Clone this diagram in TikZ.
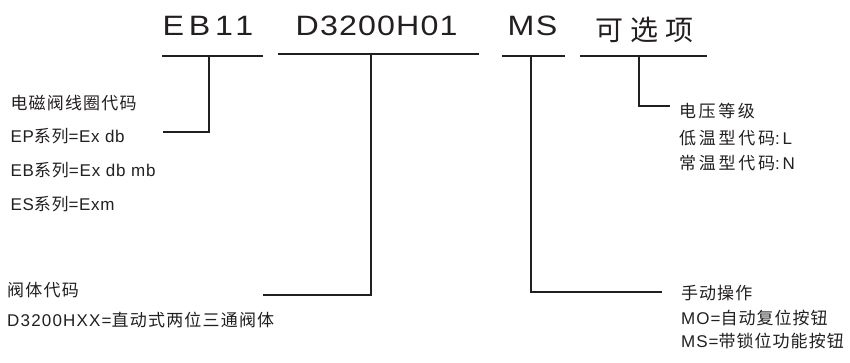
\documentclass[tikz,border=0pt]{standalone}
\usepackage{fontspec}
\setmainfont{Liberation Sans}
\newfontfamily\cjk{Noto Sans CJK SC}
\newfontfamily\wide[FakeStretch=1.15]{Liberation Sans}
\def\curls{0}
\newcommand\LS[1]{\def\curls{#1}\addfontfeature{LetterSpace=#1}}
\newcommand\zh[1]{{\cjk\addfontfeature{LetterSpace=\curls}#1}}
\definecolor{ink}{HTML}{231F20}
\begin{document}
\begin{tikzpicture}[x=1pt,y=-1pt,
  bar/.style={line width=1.8pt, draw=ink},
  lnk/.style={line width=1.8pt, draw=ink},
  big/.style={inner sep=0pt, anchor=base west, text=ink, font=\wide\fontsize{28}{32}\selectfont},
  small/.style={inner sep=0pt, anchor=base west, text=ink, font=\fontsize{17}{20}\selectfont}]
\useasboundingbox (0,0) rectangle (850,362);
% top code labels
\node[big] (t1) at (162.5,35) {\LS{17}EB11};
\node[big] (t2) at (295.5,35) {\LS{4}D3200H01};
\node[big] (t3) at (507.5,35) {\LS{5}MS};
\node[big] (t4) at (595.5,40) {\LS{25}\zh{可选项}};
% underline bars
\coordinate (b1a) at (162,56); \coordinate (b1b) at (263,56);
\coordinate (b2a) at (278,54); \coordinate (b2b) at (479,54);
\coordinate (b3a) at (502,56); \coordinate (b3b) at (565,56);
\coordinate (b4a) at (580,56); \coordinate (b4b) at (707,56);
\draw[bar] (b1a) -- (b1b);
\draw[bar] (b2a) -- (b2b);
\draw[bar] (b3a) -- (b3b);
\draw[bar] (b4a) -- (b4b);
% description texts
\node[small] (a1) at (10.3,109.8) {\LS{7}\zh{电磁阀线圈代码}};
\node[small] (a2) at (10.3,142.7) {\LS{4}EP\zh{系列}=Ex db};
\node[small] (a3) at (10.3,176.7) {\LS{5}EB\zh{系列}=Ex db mb};
\node[small] (a4) at (10.3,210) {\LS{4}ES\zh{系列}=Exm};
\node[small] (c1) at (7,296.5) {\LS{7}\zh{阀体代码}};
\node[small] (c2) at (7,326.7) {\LS{7}D3200HXX=\zh{直动式两位三通阀体}};
\node[small] (r1) at (679,117.5) {\LS{15}\zh{电压等级}};
\node[small] (r2) at (679,144.3) {\LS{16}\zh{低温型代码}:L};
\node[small] (r3) at (679,169.3) {\LS{16}\zh{常温型代码}:N};
\node[small] (m1) at (681,299.5) {\LS{6}\zh{手动操作}};
\node[small] (m2) at (681,324.3) {\LS{6}MO=\zh{自动复位按钮}};
\node[small] (m3) at (681,347.7) {\LS{6}MS=\zh{带锁位功能按钮}};
% connectors
\coordinate (j1) at (209,56);  \coordinate (e1) at (163,132);
\coordinate (j2) at (371,54);  \coordinate (e2) at (263,295);
\coordinate (j3) at (531,56);  \coordinate (e3) at (662,292);
\coordinate (j4) at (639,56);  \coordinate (e4) at (670,106);
\draw[lnk] (j1) |- (e1);
\draw[lnk] (j2) |- (e2);
\draw[lnk] (j3) |- (e3);
\draw[lnk] (j4) |- (e4);
\end{tikzpicture}
\end{document}
